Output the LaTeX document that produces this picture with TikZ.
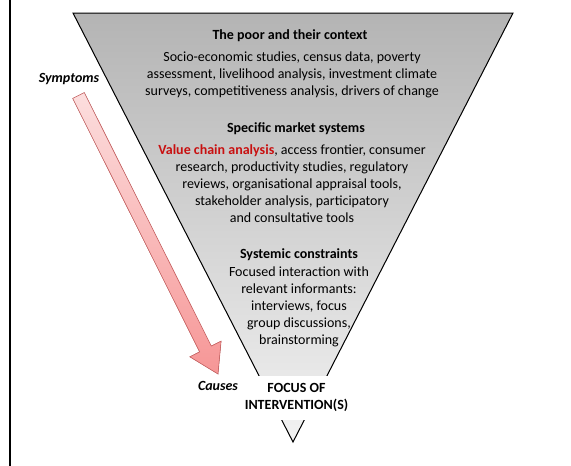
\documentclass[tikz,border=0pt]{standalone}
\usepackage{fontspec}
\setmainfont{Carlito}
\usepackage{xcolor}
\usepackage{tikz}
\usetikzlibrary{calc,positioning}

\definecolor{chainred}{RGB}{200,16,16}
\definecolor{arrowedge}{RGB}{205,100,100}

\tikzset{
    heading/.style={font=\fontsize{14}{17}\selectfont\bfseries, inner sep=0pt},
    bodytext/.style={font=\fontsize{14}{17}\selectfont, align=center, inner sep=0pt},
    sidelabel/.style={font=\fontsize{14}{17}\selectfont\bfseries\itshape, inner sep=0pt},
    funnel/.style={draw=black, line width=1pt, top color={rgb,255:red,180;green,180;blue,180}, bottom color={rgb,255:red,242;green,242;blue,242}},
    blockarrow/.style={draw=arrowedge, line width=0.6pt, top color={rgb,255:red,252;green,222;blue,222}, bottom color={rgb,255:red,246;green,150;blue,150}}
}

\begin{document}
\begin{tikzpicture}[x=1pt,y=-1pt]
    \useasboundingbox (0,0) rectangle (571,466);
    \draw [line width=1.2pt] (10,0) -- (10,466);

    % funnel
    \coordinate (fl) at (73,13);
    \coordinate (fr) at (513,13);
    \coordinate (fa) at (293,442);
    \filldraw [funnel] (fl) -- (fr) -- (fa) -- cycle;

    \node [heading] (poor) at (290,35.5) {The poor and their context};
    \node [bodytext] (poortxt) at (292,75) {Socio-economic studies, census data, poverty\\assessment, livelihood analysis, investment climate\\surveys, competitiveness analysis, drivers of change};

    \node [heading] (market) at (296,128.5) {Specific market systems};
    \node [bodytext] (markettxt) at (292,183.5) {{\bfseries\color{chainred}Value chain analysis}, access frontier, consumer\\research, productivity studies, regulatory\\reviews, organisational appraisal tools,\\stakeholder analysis, participatory\\and consultative tools};

    \node [heading] (systemic) at (299,254.5) {Systemic constraints};
    \node [bodytext] (systemictxt) at (299,306.5) {Focused interaction with\\relevant informants:\\interviews, focus\\group discussions,\\brainstorming};

    \node [bodytext, font=\fontsize{14}{17}\selectfont\bfseries, fill=white, minimum width=113pt, minimum height=44pt] (focus) at (296.5,397.5) {FOCUS OF\\INTERVENTION(S)};

    % symptoms -> causes
    \node [sidelabel] (symptoms) at (69,79) {Symptoms};
    \node [sidelabel] (causes) at (218,386) {Causes};
    \coordinate (stail) at (78.5,95.5);
    \coordinate (ctip) at (218,374);
    \coordinate (hbase) at ($(ctip)!28pt!(stail)$);
    \filldraw [blockarrow] ($(stail)!6.5pt!90:(ctip)$) -- ($(hbase)!6.5pt!-90:(stail)$) -- ($(hbase)!17.5pt!-90:(stail)$)
        -- (ctip) -- ($(hbase)!17.5pt!90:(stail)$) -- ($(hbase)!6.5pt!90:(stail)$) -- ($(stail)!6.5pt!-90:(ctip)$) -- cycle;
\end{tikzpicture}
\end{document}
